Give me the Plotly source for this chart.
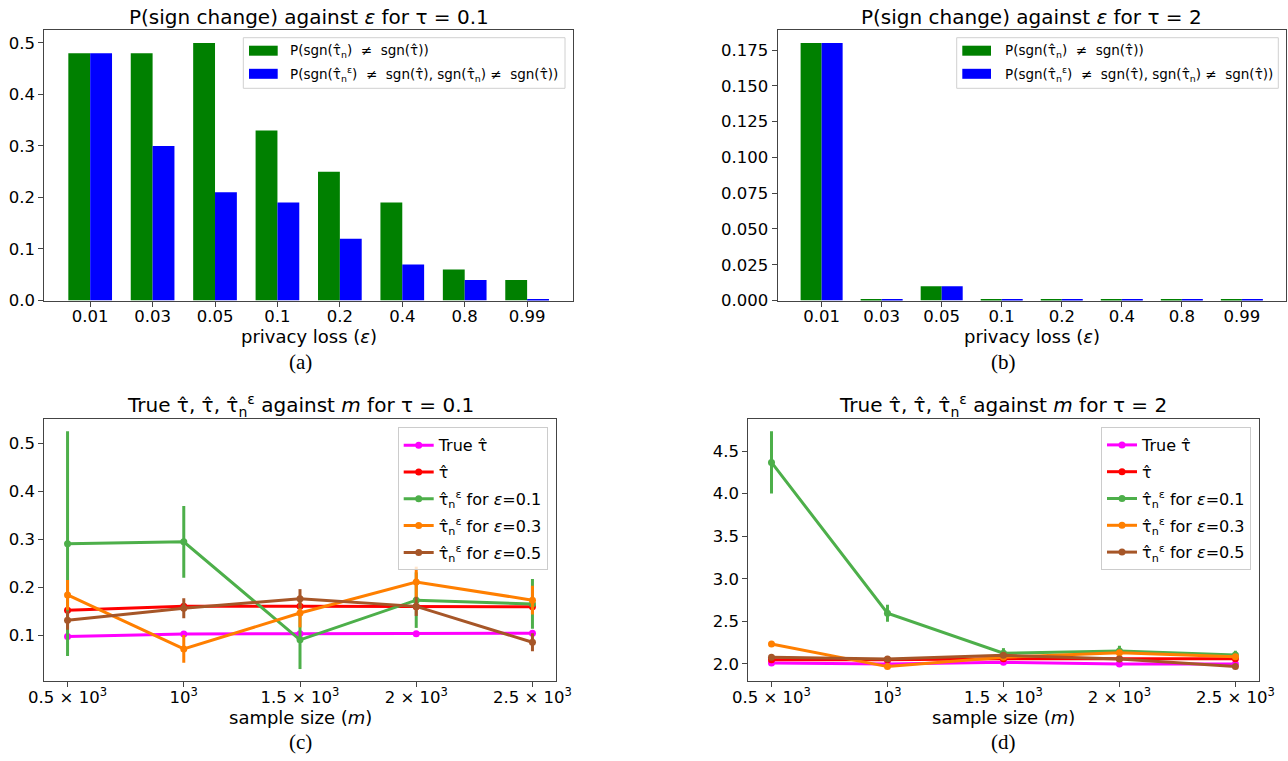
import plotly.graph_objects as go

W, H = 1288, 761

# ---------------- data ----------------
eps_labels = ["0.01", "0.03", "0.05", "0.1", "0.2", "0.4", "0.8", "0.99"]
a_sign_change = [0.48, 0.48, 0.50, 0.33, 0.25, 0.19, 0.06, 0.04]
a_sign_change_priv = [0.48, 0.30, 0.21, 0.19, 0.12, 0.07, 0.04, 0.002]
b_sign_change = [0.18, 0.0006, 0.01, 0.0006, 0.0006, 0.0006, 0.0006, 0.0006]
b_sign_change_priv = [0.18, 0.0006, 0.01, 0.0006, 0.0006, 0.0006, 0.0006, 0.0006]

m_sizes = [500, 1000, 1500, 2000, 2500]
m_ticktext = ["0.5 × 10<sup>3</sup>", "10<sup>3</sup>", "1.5 × 10<sup>3</sup>",
              "2 × 10<sup>3</sup>", "2.5 × 10<sup>3</sup>"]

c_true = [0.097, 0.102, 0.103, 0.103, 0.104]
c_hat = [0.152, 0.160, 0.160, 0.159, 0.159]
c_hat_err = [0.006, 0.006, 0.005, 0.005, 0.005]
c_e01 = [0.291, 0.295, 0.090, 0.173, 0.165]
c_e01_err = [0.235, 0.075, 0.061, 0.058, 0.052]
c_e03 = [0.184, 0.071, 0.146, 0.211, 0.173]
c_e03_err = [0.031, 0.029, 0.030, 0.032, 0.030]
c_e05 = [0.131, 0.156, 0.176, 0.160, 0.085]
c_e05_err = [0.020, 0.021, 0.020, 0.020, 0.019]

d_true = [2.01, 2.00, 2.02, 2.00, 2.00]
d_hat = [2.05, 2.05, 2.06, 2.06, 2.06]
d_hat_err = [0.01, 0.01, 0.01, 0.01, 0.01]
d_e01 = [4.368, 2.596, 2.126, 2.153, 2.106]
d_e01_err = [0.367, 0.10, 0.06, 0.06, 0.05]
d_e03 = [2.235, 1.969, 2.079, 2.133, 2.086]
d_e03_err = [0.02, 0.02, 0.02, 0.02, 0.02]
d_e05 = [2.079, 2.059, 2.102, 2.059, 1.969]
d_e05_err = [0.02, 0.02, 0.02, 0.02, 0.02]

TH = "τ\u0302"
leg_bar1 = f"P(sgn({TH}<sub>n</sub>)  ≠  sgn({TH}))"
leg_bar2 = f"P(sgn({TH}<sub>n</sub><sup>ε</sup>)  ≠  sgn({TH}), sgn({TH}<sub>n</sub>) ≠  sgn({TH}))"
bar_colors = ["#008000", "#0000ff"]
line_names = [f"True {TH}", f"{TH}",
              f"{TH}<sub>n</sub><sup>ε</sup> for <i>ε</i>=0.1",
              f"{TH}<sub>n</sub><sup>ε</sup> for <i>ε</i>=0.3",
              f"{TH}<sub>n</sub><sup>ε</sup> for <i>ε</i>=0.5"]
line_colors = ["#ff00ff", "#ff0000", "#4daf4a", "#ff7f00", "#a65628"]

FONT = "DejaVu Sans"
SERIF = "Liberation Serif"


def fx(px):
    return px / W


def fy(py):
    return 1 - py / H


fig = go.Figure()

# ---------------- bar panels ----------------
for (vals1, vals2, xa, ya) in [
    (a_sign_change, a_sign_change_priv, "x", "y"),
    (b_sign_change, b_sign_change_priv, "x2", "y2"),
]:
    fig.add_trace(go.Bar(x=eps_labels, y=vals1, name=leg_bar1, marker_color=bar_colors[0],
                         marker_line_width=0, xaxis=xa, yaxis=ya, showlegend=False,
                         offsetgroup="g1"))
    fig.add_trace(go.Bar(x=eps_labels, y=vals2, name=leg_bar2, marker_color=bar_colors[1],
                         marker_line_width=0, xaxis=xa, yaxis=ya, showlegend=False,
                         offsetgroup="g2"))

# ---------------- line panels ----------------
c_series = [(c_true, None), (c_hat, c_hat_err), (c_e01, c_e01_err),
            (c_e03, c_e03_err), (c_e05, c_e05_err)]
d_series = [(d_true, None), (d_hat, d_hat_err), (d_e01, d_e01_err),
            (d_e03, d_e03_err), (d_e05, d_e05_err)]
for series, xa, ya, leg in [(c_series, "x3", "y3", "legend"), (d_series, "x4", "y4", "legend2")]:
    for i, ((vals, err), name, col) in enumerate(zip(series, line_names, line_colors)):
        kw = {}
        if err is not None:
            kw["error_y"] = dict(type="data", array=err, visible=True, color=col,
                                 thickness=3, width=0)
        fig.add_trace(go.Scatter(x=m_sizes, y=vals, mode="lines+markers", name=name,
                                 line=dict(color=col, width=3),
                                 marker=dict(color=col, size=7),
                                 legendgroup=f"{leg}_{i}",
                                 xaxis=xa, yaxis=ya, legend=leg, **kw))

# ---------------- axes ----------------
axis_common = dict(showline=True, mirror=True, linecolor="#444", linewidth=1,
                   ticks="outside", ticklen=5, tickcolor="#444", showgrid=False,
                   zeroline=False, automargin=False,
                   tickfont=dict(family=FONT, size=16.5, color="black"))
xaxis_extra = dict(ticklabelstandoff=-4)

boxes = {
    "a": (44.3, 573.0, 30.0, 300.5),
    "b": (777.5, 1286.0, 30.0, 300.5),
    "c": (44.3, 555.7, 419.3, 681.0),
    "d": (748.3, 1258.6, 419.3, 681.0),
}


def dom(key):
    l, r, t, b = boxes[key]
    return [fx(l), fx(r)], [fy(b), fy(t)]


xd, yd = dom("a")
fig.update_layout(
    xaxis=dict(domain=xd, anchor="y", type="category", range=[-0.735, 7.735], **axis_common, **xaxis_extra),
    yaxis=dict(domain=yd, anchor="x", range=[0, 0.525], dtick=0.1, tickformat=".1f", **axis_common),
)
xd, yd = dom("b")
fig.update_layout(
    xaxis2=dict(domain=xd, anchor="y2", type="category", range=[-0.735, 7.735], **axis_common, **xaxis_extra),
    yaxis2=dict(domain=yd, anchor="x2", range=[0, 0.189], dtick=0.025, tickformat=".3f", **axis_common),
)
xd, yd = dom("c")
fig.update_layout(
    xaxis3=dict(domain=xd, anchor="y3", range=[400, 2600], tickvals=m_sizes, ticktext=m_ticktext,
                **axis_common, **xaxis_extra),
    yaxis3=dict(domain=yd, anchor="x3", range=[0.004, 0.551], dtick=0.1, tickformat=".1f", **axis_common),
)
xd, yd = dom("d")
fig.update_layout(
    xaxis4=dict(domain=xd, anchor="y4", range=[400, 2600], tickvals=m_sizes, ticktext=m_ticktext,
                **axis_common, **xaxis_extra),
    yaxis4=dict(domain=yd, anchor="x4", range=[1.80, 4.874], dtick=0.5, tickformat=".1f", **axis_common),
)

# ---------------- legends for line panels ----------------
leg_common = dict(bgcolor="rgba(255,255,255,0.8)", bordercolor="#cccccc", borderwidth=1,
                  xanchor="right", yanchor="top", tracegroupgap=3, traceorder="grouped",
                  font=dict(family=FONT, size=16, color="black"))
fig.update_layout(
    legend=dict(x=fx(547.7), y=fy(427.3), **leg_common),
    legend2=dict(x=fx(1251), y=fy(427), **leg_common),
)

# ---------------- titles, labels, captions, bar legends ----------------
ann = []
shapes = []


def text(xp, yp, s, size, family=FONT, anchor="center"):
    ann.append(dict(x=fx(xp), y=fy(yp), xref="paper", yref="paper", text=s, showarrow=False,
                    xanchor=anchor, yanchor="middle",
                    font=dict(family=family, size=size, color="black")))


cx = lambda k: (boxes[k][0] + boxes[k][1]) / 2
text(cx("a"), 16.5, "P(sign change) against <i>ε</i> for τ = 0.1", 20)
text(cx("b"), 16.5, "P(sign change) against <i>ε</i> for τ = 2", 20)
text(cx("c"), 405, f"True {TH}, {TH}, {TH}<sub>n</sub><sup>ε</sup> against <i>m</i> for τ = 0.1", 20)
text(cx("d"), 405, f"True {TH}, {TH}, {TH}<sub>n</sub><sup>ε</sup> against <i>m</i> for τ = 2", 20)
text(cx("a"), 336, "privacy loss (<i>ε</i>)", 18)
text(cx("b"), 336, "privacy loss (<i>ε</i>)", 18)
text(cx("c"), 717, "sample size (<i>m</i>)", 18)
text(cx("d"), 717, "sample size (<i>m</i>)", 18)
text(300, 362, "(a)", 21, SERIF)
text(1003, 362, "(b)", 21, SERIF)
text(300, 742, "(c)", 21, SERIF)
text(1003, 742, "(d)", 21, SERIF)

# matplotlib-style legends for the bar panels
for (bl, br, bt, bb, sym_l, sym_r, txt_l) in [
    (243.3, 565.0, 37.7, 88.3, 249.0, 277.7, 288.0),
    (956.7, 1278.3, 37.7, 88.3, 962.3, 991.0, 1002.7),
]:
    shapes.append(dict(type="rect", xref="paper", yref="paper",
                       x0=fx(bl), x1=fx(br), y0=fy(bb), y1=fy(bt),
                       line=dict(color="#d0d0d0", width=1), fillcolor="rgba(255,255,255,0.8)"))
    for row_y, col, label in [(50.7, bar_colors[0], leg_bar1), (73.8, bar_colors[1], leg_bar2)]:
        shapes.append(dict(type="rect", xref="paper", yref="paper",
                           x0=fx(sym_l), x1=fx(sym_r), y0=fy(row_y + 5), y1=fy(row_y - 5),
                           line=dict(width=0), fillcolor=col))
        text(txt_l, row_y, label, 13.5, FONT, anchor="left")

fig.update_layout(
    width=W, height=H, margin=dict(l=0, r=0, t=0, b=0, autoexpand=False),
    paper_bgcolor="white", plot_bgcolor="white",
    barmode="group", bargap=0.3, bargroupgap=0,
    annotations=ann, shapes=shapes, font=dict(family=FONT, color="black"),
)

fig.write_html("out.html", config={"displayModeBar": False},
               post_script="document.body.style.margin='0';document.body.style.overflow='hidden';")
